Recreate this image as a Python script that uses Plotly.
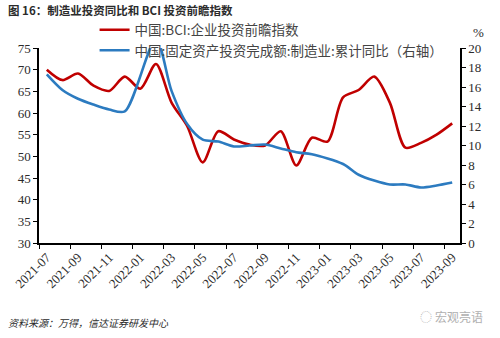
import plotly.graph_objects as go

# Monthly categories, 2021-07 .. 2023-09
months = [
    "2021-07", "2021-08", "2021-09", "2021-10", "2021-11", "2021-12",
    "2022-01", "2022-02", "2022-03", "2022-04", "2022-05", "2022-06",
    "2022-07", "2022-08", "2022-09", "2022-10", "2022-11", "2022-12",
    "2023-01", "2023-02", "2023-03", "2023-04", "2023-05", "2023-06",
    "2023-07", "2023-08", "2023-09",
]

# BCI enterprise investment outlook index (left axis)
bci_invest = [
    70.0, 67.6, 69.1, 66.3, 65.1, 68.4,
    65.6, 71.3, 62.4, 57.0, 48.6, 55.8,
    53.9, 52.7, 52.5, 55.8, 47.9, 54.3,
    53.4, 63.6, 65.3, 68.4, 62.4, 52.0,
    53.1, 55.0, 57.6,
]

# Manufacturing fixed-asset investment, cumulative YoY % (right axis);
# January figures are not published
mfg_fai_yoy = [
    17.3, 15.7, 14.8, 14.2, 13.7, 13.5,
    None, 20.9, 15.6, 12.2, 10.6, 10.4,
    9.9, 10.0, 10.1, 9.7, 9.3, 9.1,
    None, 8.1, 7.0, 6.4, 6.0, 6.0,
    5.7, 5.9, 6.2,
]

left_ticks = list(range(30, 80, 5))
right_ticks = list(range(0, 22, 2))

RED = "#C00000"
BLUE = "#2C7BC0"
TXT = "#2b2b2b"
CJK = "Noto Sans CJK SC"
SERIF = "Liberation Serif"

fig = go.Figure()
fig.add_trace(go.Scatter(
    x=months, y=bci_invest, name="中国:BCI:企业投资前瞻指数",
    mode="lines", line=dict(color=RED, width=2.6, shape="spline", smoothing=0.8),
    yaxis="y",
))
fig.add_trace(go.Scatter(
    x=months, y=mfg_fai_yoy, name="中国:固定资产投资完成额:制造业:累计同比（右轴）",
    mode="lines", line=dict(color=BLUE, width=2.6, shape="spline", smoothing=0.8),
    connectgaps=True, yaxis="y2",
))

axis_common = dict(
    showgrid=False, zeroline=False, showline=True, linecolor="#000", linewidth=1.5,
    ticks="outside", ticklen=4, tickwidth=1.3, tickcolor="#000",
    tickfont=dict(family=SERIF, size=13, color=TXT),
)

fig.update_layout(
    width=500, height=338,
    margin=dict(l=36, r=40, t=48, b=95),
    paper_bgcolor="white", plot_bgcolor="white",
    showlegend=True,
    legend=dict(
        x=0.132, y=1.172, xanchor="left", yanchor="top",
        bgcolor="rgba(0,0,0,0)", borderwidth=0,
        font=dict(family=CJK, size=13.5, color="#444"),
        itemwidth=30, tracegroupgap=0,
    ),
    xaxis=dict(
        type="category", range=[-0.5, len(months) - 0.5],
        tickmode="linear", tick0=0, dtick=2, tickson="boundaries",
        tickangle=-45, **axis_common,
    ),
    yaxis=dict(range=[30, 75], tickvals=left_ticks, **axis_common),
    yaxis2=dict(range=[0, 20], tickvals=right_ticks, overlaying="y", side="right",
                **axis_common),
)

# Title, unit, source note and account mark
fig.add_annotation(
    text="<b>图 16：制造业投资同比和 BCI 投资前瞻指数</b>",
    xref="paper", yref="paper", x=-0.078, y=1.195, xanchor="left", yanchor="middle",
    showarrow=False, font=dict(family=CJK, size=11.5, color=TXT),
)
fig.add_annotation(
    text="%", xref="paper", yref="paper", x=1.0, y=1.0, xanchor="left", yanchor="bottom",
    xshift=11, yshift=6, showarrow=False, font=dict(family=SERIF, size=13, color=TXT),
)
fig.add_annotation(
    text="<i>资料来源：万得，信达证券研发中心</i>",
    xref="paper", yref="paper", x=0, y=0, xanchor="left", yanchor="middle",
    xshift=-33, yshift=-79, showarrow=False, font=dict(family=CJK, size=10, color=TXT),
)
fig.add_annotation(
    text="宏观亮语", xref="paper", yref="paper", x=1.0, y=0, xanchor="left", yanchor="middle",
    xshift=-27, yshift=-73, showarrow=False, font=dict(family=CJK, size=12, color="#b0b0b0"),
)
fig.add_annotation(
    text="◌", xref="paper", yref="paper", x=1.0, y=0, xanchor="left", yanchor="middle",
    xshift=-42, yshift=-73, showarrow=False, font=dict(family=CJK, size=12, color="#b8b8b8"),
)

fig.write_html("out.html")
